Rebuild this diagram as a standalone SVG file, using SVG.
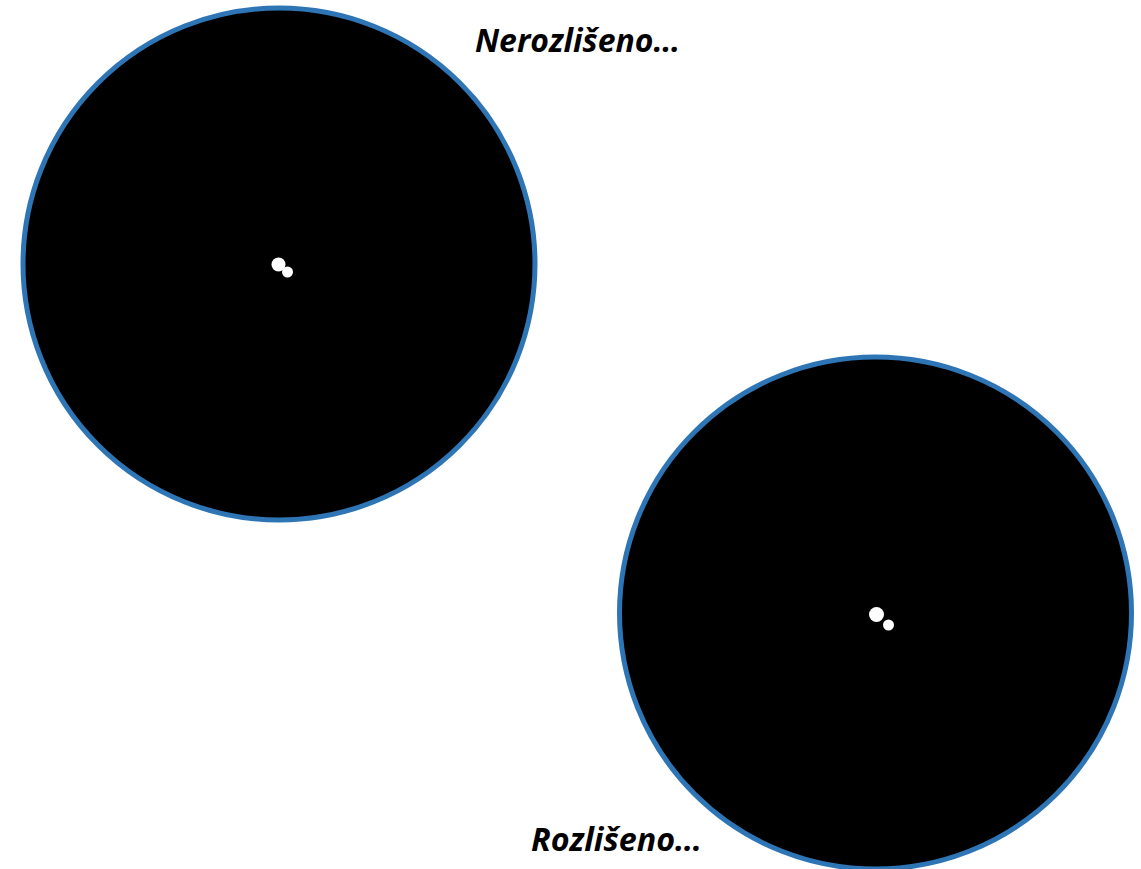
<svg xmlns="http://www.w3.org/2000/svg" width="1141" height="869" viewBox="0 0 1141 869">
<style>
.disc{fill:#000;stroke:#2E75B6;stroke-width:5}
.star{fill:#fff}
.lbl{font-family:"Open Sans","Liberation Sans",sans-serif;font-weight:bold;font-style:italic;font-size:32px;fill:#000}
</style>
<rect width="1141" height="869" fill="#fff"/>
<g id="unresolved">
<circle class="disc" cx="279" cy="264" r="256"/>
<circle class="star" cx="278.5" cy="264.5" r="7"/>
<circle class="star" cx="287.5" cy="272" r="5.5"/>
</g>
<g id="resolved">
<circle class="disc" cx="875.5" cy="613" r="256"/>
<circle class="star" cx="876.5" cy="614.5" r="7.5"/>
<circle class="star" cx="888.5" cy="625" r="5.5"/>
</g>
<g id="labels">
<text class="lbl" x="475" y="52" textLength="205" lengthAdjust="spacingAndGlyphs">Nerozlišeno…</text>
<text class="lbl" x="531" y="851" textLength="171" lengthAdjust="spacingAndGlyphs">Rozlišeno…</text>
</g>
</svg>
